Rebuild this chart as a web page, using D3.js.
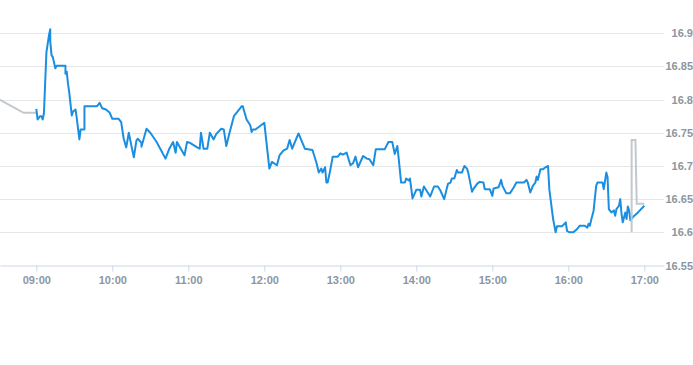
<!DOCTYPE html>
<html>
<head>
<meta charset="utf-8">
<script src="https://cdn.jsdelivr.net/npm/d3@7"></script>
<style>
  html, body { margin: 0; padding: 0; background: #ffffff; }
  svg { display: block; }
  text { font-family: "Liberation Sans", Arial, sans-serif; }
</style>
</head>
<body>
<svg id="chart" width="693" height="365"></svg>
<script>
// ---- data ----
const mainTimes = ["09:00","09:01","09:03","09:04","09:05","09:06","09:08","09:09","09:10","09:11","09:11","09:12","09:13","09:15","09:16","09:23","09:23","09:24","09:25","09:26","09:28","09:29","09:31","09:32","09:34","09:35","09:38","09:38","09:48","09:50","09:52","09:55","09:58","10:00","10:05","10:07","10:09","10:11","10:13","10:15","10:17","10:19","10:20","10:23","10:23","10:27","10:30","10:35","10:42","10:45","10:48","10:50","10:51","10:57","10:59","11:01","11:07","11:09","11:10","11:12","11:15","11:17","11:20","11:22","11:26","11:28","11:30","11:32","11:36","11:41","11:42","11:43","11:46","11:49","11:50","11:51","11:53","12:00","12:04","12:06","12:10","12:12","12:15","12:18","12:20","12:22","12:27","12:32","12:38","12:41","12:43","12:45","12:46","12:48","12:49","12:50","12:52","12:54","12:58","13:00","13:02","13:05","13:08","13:10","13:12","13:14","13:18","13:21","13:23","13:26","13:28","13:35","13:38","13:41","13:43","13:45","13:46","13:48","13:51","13:52","13:54","13:55","13:57","14:00","14:03","14:04","14:06","14:11","14:14","14:17","14:19","14:22","14:25","14:27","14:28","14:30","14:32","14:33","14:36","14:38","14:40","14:41","14:44","14:45","14:48","14:50","14:53","14:54","14:58","15:00","15:01","15:05","15:07","15:08","15:11","15:14","15:17","15:19","15:25","15:27","15:28","15:30","15:32","15:34","15:35","15:36","15:38","15:40","15:42","15:44","15:45","15:48","15:50","15:51","15:55","15:58","15:59","16:01","16:04","16:07","16:09","16:13","16:15","16:16","16:17","16:18","16:20","16:22","16:23","16:27","16:28","16:30","16:31","16:32","16:34","16:36","16:37","16:38","16:40","16:41","16:42","16:43","16:45","16:46","16:47","16:48","16:49","16:51","16:55","17:00"];
const mainValues = [16.786,16.770,16.775,16.775,16.770,16.779,16.872,16.884,16.897,16.906,16.888,16.867,16.864,16.847,16.851,16.851,16.839,16.842,16.824,16.811,16.776,16.782,16.785,16.771,16.740,16.755,16.755,16.790,16.790,16.795,16.787,16.785,16.780,16.771,16.771,16.766,16.741,16.728,16.750,16.731,16.713,16.738,16.741,16.735,16.729,16.756,16.750,16.736,16.711,16.726,16.736,16.720,16.736,16.716,16.736,16.735,16.728,16.726,16.750,16.726,16.726,16.750,16.740,16.748,16.756,16.755,16.730,16.746,16.775,16.787,16.790,16.790,16.770,16.761,16.751,16.755,16.755,16.765,16.696,16.706,16.701,16.716,16.723,16.726,16.739,16.726,16.749,16.726,16.724,16.706,16.690,16.696,16.690,16.698,16.675,16.675,16.693,16.714,16.714,16.719,16.717,16.720,16.701,16.704,16.714,16.698,16.715,16.711,16.710,16.701,16.725,16.725,16.736,16.736,16.718,16.730,16.713,16.675,16.675,16.681,16.678,16.681,16.651,16.664,16.664,16.654,16.669,16.654,16.669,16.669,16.663,16.650,16.673,16.675,16.681,16.681,16.694,16.690,16.690,16.700,16.696,16.690,16.661,16.665,16.673,16.676,16.675,16.665,16.665,16.655,16.666,16.668,16.679,16.670,16.659,16.659,16.668,16.675,16.675,16.679,16.675,16.660,16.670,16.675,16.684,16.679,16.695,16.695,16.698,16.700,16.665,16.620,16.600,16.609,16.609,16.615,16.602,16.600,16.600,16.605,16.610,16.610,16.607,16.613,16.610,16.618,16.633,16.670,16.675,16.675,16.665,16.690,16.683,16.635,16.630,16.633,16.625,16.635,16.640,16.650,16.628,16.615,16.630,16.620,16.639,16.633,16.618,16.623,16.630,16.640];
const preTimes = ["08:31","08:50","09:00"];
const preValues = [16.800,16.780,16.780];
const postTimes = ["16:50","16:50","16:53","16:54","17:00"];
const postValues = [16.600,16.739,16.739,16.643,16.643];
const xTickTimes = ["09:00","10:00","11:00","12:00","13:00","14:00","15:00","16:00","17:00"];
const yTickValues = [16.55,16.6,16.65,16.7,16.75,16.8,16.85,16.9];
const xDomain = ["08:31:20","17:15:33"];
const yDomain = [16.55, 16.9];

// ---- chart ----
const parse = t => d3.timeParse("%H:%M:%S")(t.length === 5 ? t + ":00" : t);
const svg = d3.select("#chart");
const plotLeft = 0, plotRight = 664, plotTop = 33.2, plotBottom = 265.5;

const x = d3.scaleTime().domain(xDomain.map(parse)).range([plotLeft, plotRight]);
const y = d3.scaleLinear().domain(yDomain).range([plotBottom, plotTop]);

// grid lines
svg.append("g").selectAll("line").data(yTickValues.slice(1)).join("line")
  .attr("x1", plotLeft).attr("x2", plotRight)
  .attr("y1", d => Math.round(y(d)) + 0.5).attr("y2", d => Math.round(y(d)) + 0.5)
  .attr("stroke", "#e6e6e6").attr("stroke-width", 1);

// y axis labels (right side)
const yAxis = d3.axisRight(y).tickValues(yTickValues)
  .tickFormat(d => String(+d.toFixed(2))).tickSize(0).tickPadding(0);
const yg = svg.append("g").attr("transform", "translate(693,0)").call(yAxis);
yg.select(".domain").remove();
yg.selectAll("text").attr("text-anchor", "end").attr("x", 0)
  .attr("fill", "#8c96a2").style("font-size", "11px").style("font-weight", "bold");

// x axis
const xAxis = d3.axisBottom(x).tickValues(xTickTimes.map(parse))
  .tickFormat(d3.timeFormat("%H:%M")).tickSize(6).tickPadding(5).tickSizeOuter(0);
const xg = svg.append("g").attr("transform", `translate(0,${Math.round(plotBottom) - 0.5})`).call(xAxis);
xg.select(".domain").attr("stroke", "#ccd6eb");
xg.selectAll(".tick line").attr("stroke", "#ccd6eb");
xg.selectAll("text").attr("fill", "#8c96a2").style("font-size", "11px").style("font-weight", "bold");

const line = d3.line().x(d => x(d.t)).y(d => y(d.v));
const toPts = (ts, vs) => ts.map((t, i) => ({ t: parse(t), v: vs[i] }));

svg.append("path").datum(toPts(preTimes, preValues))
  .attr("d", line).attr("fill", "none").attr("stroke", "#c2c8ce").attr("stroke-width", 2);
svg.append("path").datum(toPts(mainTimes, mainValues))
  .attr("d", line).attr("fill", "none").attr("stroke", "#1a8ee0").attr("stroke-width", 2)
  .attr("stroke-linejoin", "round");
svg.append("path").datum(toPts(postTimes, postValues))
  .attr("d", line).attr("fill", "none").attr("stroke", "#c2c8ce").attr("stroke-width", 2);
</script>
</body>
</html>
